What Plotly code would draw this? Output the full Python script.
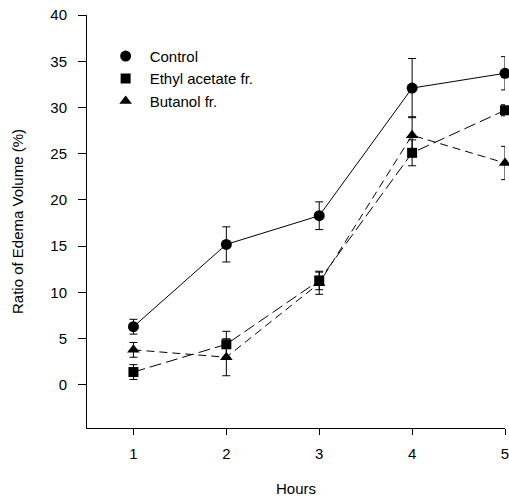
import plotly.graph_objects as go

hours = [1, 2, 3, 4, 5]
control = [6.3, 15.2, 18.3, 32.1, 33.7]
control_err = [0.8, 1.9, 1.5, 3.2, 1.8]
ethyl = [1.4, 4.4, 11.3, 25.1, 29.7]
ethyl_err = [0.8, 1.4, 1.0, 1.4, 0.6]
butanol = [3.8, 3.0, 11.0, 27.0, 24.0]
butanol_err = [0.8, 2.0, 1.2, 2.0, 1.8]
y_ticks = [0, 5, 10, 15, 20, 25, 30, 35, 40]
x_ticks = [1, 2, 3, 4, 5]

series = [
    ("Control", control, control_err, "circle", "solid", 11),
    ("Ethyl acetate fr.", ethyl, ethyl_err, "square", "12px,5px", 10),
    ("Butanol fr.", butanol, butanol_err, "triangle-up", "8px,5px", 11),
]

fig = go.Figure()
for name, vals, err, sym, dash, sz in series:
    fig.add_trace(go.Scatter(
        x=hours, y=vals, mode="lines+markers", name=name, showlegend=False,
        line=dict(color="black", width=1, dash=dash),
        marker=dict(symbol=sym, size=sz, color="black"),
        error_y=dict(type="data", array=err, color="black", thickness=1, width=4),
        cliponaxis=False,
    ))
for name, vals, err, sym, dash, sz in series:
    fig.add_trace(go.Scatter(
        x=[None], y=[None], mode="markers", name=name,
        marker=dict(symbol=sym, size=sz, color="black"),
    ))

font = "Liberation Sans, Arial, sans-serif"
fig.update_layout(
    width=509, height=500,
    margin=dict(l=87, r=4, t=15, b=72),
    paper_bgcolor="white", plot_bgcolor="white",
    font=dict(family=font, size=15, color="black"),
    legend=dict(x=0.035, y=0.94, xanchor="left", yanchor="top",
                bgcolor="rgba(0,0,0,0)", font=dict(size=15),
                tracegroupgap=0, itemwidth=38),
    xaxis=dict(range=[0.5, 5.0], tickvals=x_ticks, showline=True, linecolor="black",
               linewidth=1, ticks="outside", ticklen=6, tickcolor="black",
               showgrid=False, zeroline=False, automargin=False,
               ticklabelstandoff=6, ticklabeloverflow="allow",
               title=dict(text="Hours", standoff=22, font=dict(size=15))),
    yaxis=dict(range=[-4.65, 40], tickvals=y_ticks, showline=True, linecolor="black",
               linewidth=1, ticks="outside", ticklen=8, tickcolor="black",
               showgrid=False, zeroline=False, automargin=False,
               ticklabelstandoff=8, ticklabeloverflow="allow",
               title=dict(text="Ratio of Edema Volume (%)", standoff=23, font=dict(size=15))),
)
fig.write_html("out.html", config={"displayModeBar": False},
               post_script="document.body.style.margin='0';document.body.style.overflow='hidden';")
